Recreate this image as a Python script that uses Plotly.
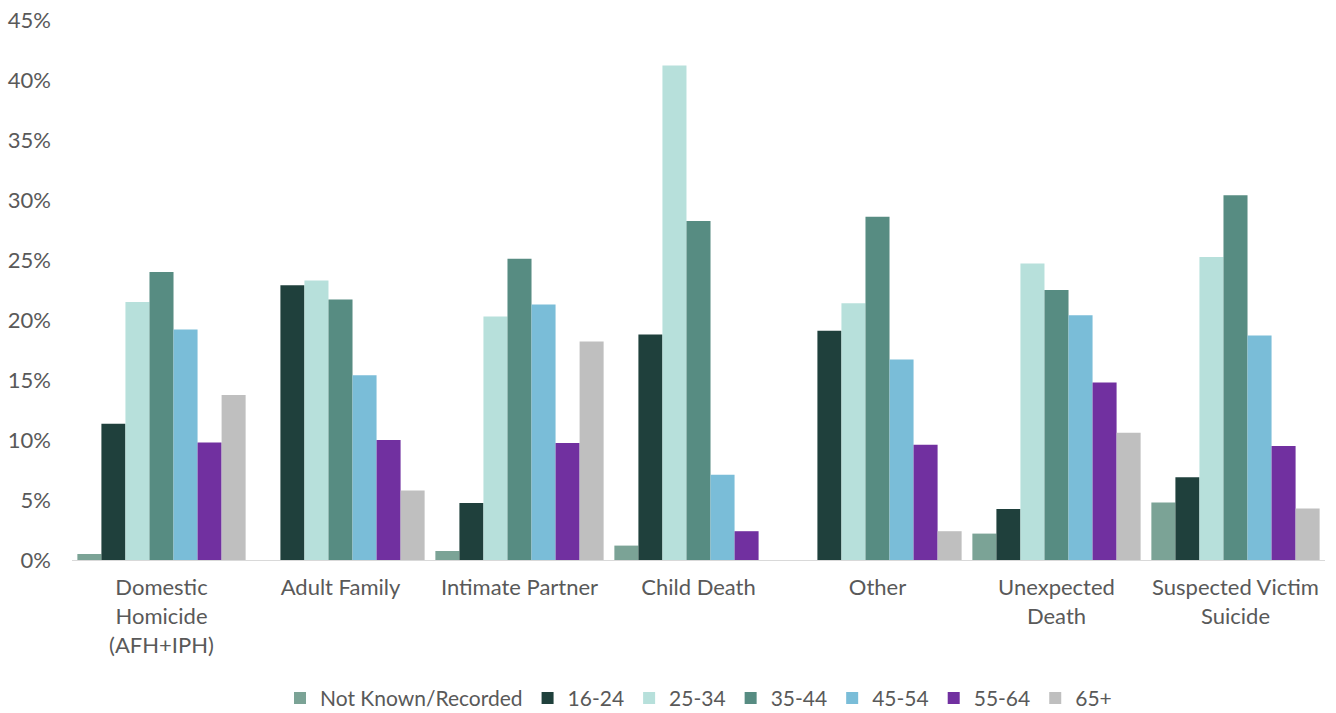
import plotly.graph_objects as go

categories = [
    "Domestic<br>Homicide<br>(AFH+IPH)",
    "Adult Family",
    "Intimate Partner",
    "Child Death",
    "Other",
    "Unexpected<br>Death",
    "Suspected Victim<br>Suicide",
]

age_groups = ["Not Known/Recorded", "16-24", "25-34", "35-44", "45-54", "55-64", "65+"]

not_known = [0.5, 0.0, 0.75, 1.2, 0.0, 2.2, 4.8]
age_16_24 = [11.35, 22.9, 4.75, 18.8, 19.1, 4.25, 6.9]
age_25_34 = [21.5, 23.3, 20.3, 41.2, 21.4, 24.7, 25.25]
age_35_44 = [24.0, 21.7, 25.1, 28.25, 28.6, 22.5, 30.4]
age_45_54 = [19.2, 15.4, 21.3, 7.1, 16.7, 20.4, 18.7]
age_55_64 = [9.8, 10.0, 9.75, 2.4, 9.6, 14.8, 9.5]
age_65_plus = [13.75, 5.8, 18.2, 0.0, 2.4, 10.6, 4.3]

series_values = [not_known, age_16_24, age_25_34, age_35_44, age_45_54, age_55_64, age_65_plus]
colors = ["#7ba396", "#1f403c", "#b7e0db", "#578c82", "#7abdd8", "#7130a0", "#bfbfbf"]

tick_vals = [0, 5, 10, 15, 20, 25, 30, 35, 40, 45]
tick_text = [f"{v}%" for v in tick_vals]

FONT = "Lato, Carlito, sans-serif"
TEXT_COLOR = "#595959"

fig = go.Figure()
for name, vals, col in zip(age_groups, series_values, colors):
    fig.add_trace(go.Bar(
        name=name,
        x=categories,
        y=vals,
        marker=dict(color=col, line=dict(width=0)),
        hovertemplate="%{y:.1f}%<extra>" + name + "</extra>",
    ))

fig.update_layout(
    width=1336,
    height=713,
    barmode="group",
    bargap=0.06,
    bargroupgap=0,
    plot_bgcolor="white",
    paper_bgcolor="white",
    margin=dict(l=72, r=11, t=20, b=153, autoexpand=False),
    font=dict(family=FONT, size=22, color=TEXT_COLOR),
    legend=dict(
        orientation="h",
        x=0.5,
        xanchor="center",
        y=-0.256,
        yanchor="middle",
        font=dict(family=FONT, size=21, color=TEXT_COLOR),
        itemwidth=30,
        tracegroupgap=0,
    ),
    xaxis=dict(
        showline=True,
        linecolor="#d9d9d9",
        linewidth=1,
        ticks="",
        showgrid=False,
        tickfont=dict(family=FONT, size=22, color=TEXT_COLOR),
        ticklabelstandoff=8,
    ),
    yaxis=dict(
        range=[0, 45],
        tickvals=tick_vals,
        ticktext=tick_text,
        showgrid=False,
        zeroline=False,
        ticks="",
        tickfont=dict(family=FONT, size=22, color=TEXT_COLOR),
        ticklabelstandoff=20,
    ),
)

fig.write_html("out.html")
